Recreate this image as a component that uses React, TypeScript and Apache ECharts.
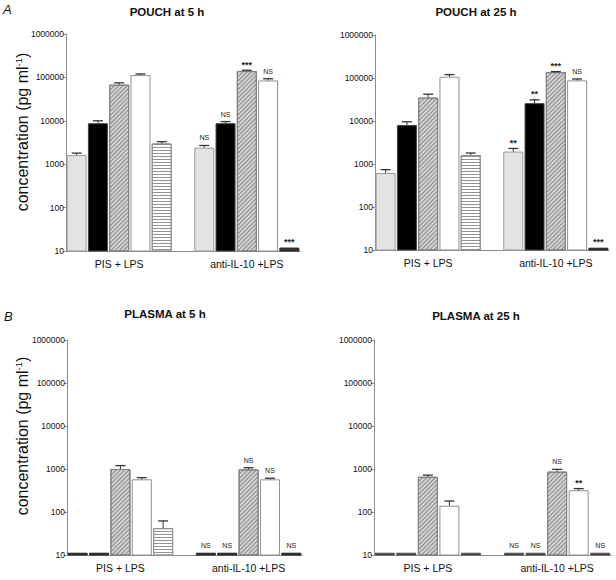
import React, { useEffect, useRef } from "react";
import * as echarts from "echarts";

// ---------- data ----------
const groups = ["PIS + LPS", "anti-IL-10 +LPS"];
const panelTitles = ["POUCH at 5 h", "POUCH at 25 h", "PLASMA at 5 h", "PLASMA at 25 h"];
const yTicks = [10, 100, 1000, 10000, 100000, 1000000];

// 10 bars per panel: 5 bar types for group 1 then 5 for group 2
const pouch5Values = [1620, 8800, 68000, 113000, 3000, 2400, 8800, 140000, 85000, 12];
const pouch5Errors = [1800, 10000, 75000, 120000, 3300, 2700, 9600, 146000, 93000, 12];
const pouch5Sig = ["", "", "", "", "", "NS", "NS", "***", "NS", "***"];

const pouch25Values = [617, 8100, 35000, 107000, 1620, 1950, 26000, 137000, 88000, 11.3];
const pouch25Errors = [740, 9600, 42000, 120000, 1800, 2300, 31000, 141000, 95000, 11.3];
const pouch25Sig = ["", "", "", "", "", "**", "**", "***", "NS", "***"];

const plasma5Values = [11.3, 11.3, 1000, 575, 42, 11.3, 11.3, 980, 575, 11.3];
const plasma5Errors = [11.3, 11.3, 1200, 630, 62, 11.3, 11.3, 1070, 610, 11.3];
const plasma5Sig = ["", "", "", "", "", "NS", "NS", "NS", "NS", "NS"];

const plasma25Values = [11.3, 11.3, 660, 140, 11.3, 11.3, 11.3, 870, 320, 11.3];
const plasma25Errors = [11.3, 11.3, 720, 180, 11.3, 11.3, 11.3, 980, 350, 11.3];
const plasma25Sig = ["", "", "", "", "", "NS", "NS", "NS", "**", "NS"];

const panelValues = [pouch5Values, pouch25Values, plasma5Values, plasma25Values];
const panelErrors = [pouch5Errors, pouch25Errors, plasma5Errors, plasma25Errors];
const panelSig = [pouch5Sig, pouch25Sig, plasma5Sig, plasma25Sig];

// ---------- layout / style ----------
const FONT = "'Liberation Sans', Arial, sans-serif";
const NARROW = "'Liberation Sans Narrow', 'Arial Narrow', 'Liberation Sans', Arial, sans-serif";

const grids = [
  { left: 66, top: 34, width: 234, height: 217 },
  { left: 375, top: 35, width: 234, height: 215 },
  { left: 67, top: 340, width: 235, height: 215 },
  { left: 374, top: 340, width: 237, height: 215 },
];
const titlePos = [
  { x: 167, y: 6 },
  { x: 476, y: 6 },
  { x: 165, y: 308 },
  { x: 476, y: 310 },
];

const diagDecal = {
  symbol: "rect",
  symbolSize: 1,
  dashArrayX: [1, 0],
  dashArrayY: [0.8, 1.4],
  rotation: -Math.PI / 4,
  color: "rgba(70,70,70,0.55)",
};
const horizDecal = {
  symbol: "rect",
  symbolSize: 1,
  dashArrayX: [1, 0],
  dashArrayY: [1, 2],
  rotation: 0,
  color: "rgba(120,120,120,0.8)",
};
const barStyles: any[] = [
  { color: "#e3e3e3", borderColor: "#9a9a9a", borderWidth: 1 },
  { color: "#000000", borderColor: "#444444", borderWidth: 1 },
  { color: "#d4d4d4", borderColor: "#808080", borderWidth: 1, decal: diagDecal },
  { color: "#ffffff", borderColor: "#909090", borderWidth: 1 },
  { color: "#ffffff", borderColor: "#909090", borderWidth: 1, decal: horizDecal },
];
// near-zero bars render as a dark line
const flatStyle = (p: number) => ({
  color: "#333",
  borderColor: p === 3 ? "#555" : "#222",
  borderWidth: 1,
  decal: "none",
});

const SLOTS = 11; // 5 bars, gap, 5 bars
const slotOf = (j: number) => (j < 5 ? j : j + 1);

export default function App() {
  const ref = useRef<HTMLDivElement>(null);

  useEffect(() => {
    if (!ref.current) return;
    const chart = echarts.init(ref.current, undefined, { renderer: "svg" });

    const slotNames = Array.from({ length: SLOTS }, (_, i) => "s" + i);

    const xAxis = grids.map((_, p) => ({
      type: "category",
      gridIndex: p,
      data: slotNames,
      axisLine: { lineStyle: { color: "#8c8c8c", width: 1 } },
      axisTick: { show: false },
      axisLabel: {
        interval: 0,
        margin: 7,
        fontSize: 10.5,
        fontFamily: FONT,
        color: "#111",
        formatter: (_v: string, idx: number) => (idx === 2 ? groups[0] : idx === 8 ? groups[1] : ""),
      },
    }));

    const yAxis = grids.map((_, p) => ({
      type: "log",
      gridIndex: p,
      logBase: 10,
      min: yTicks[0],
      max: yTicks[yTicks.length - 1],
      splitNumber: yTicks.length - 1,
      splitLine: { show: false },
      axisLine: { show: true, lineStyle: { color: "#8c8c8c", width: 1 } },
      axisTick: { show: true, length: 3, lineStyle: { color: "#8c8c8c" } },
      axisLabel: {
        margin: 2,
        fontSize: 8.5,
        fontFamily: NARROW,
        color: "#111",
        formatter: (v: number) => String(Math.round(v)),
      },
    }));

    const series: any[] = [];
    grids.forEach((_, p) => {
      const vals = panelValues[p];
      for (let k = 0; k < 5; k++) {
        const data = Array.from({ length: SLOTS }, (_, i) => {
          let v: number | null = null;
          if (i === k) v = vals[k];
          else if (i === k + 6) v = vals[5 + k];
          if (v === null) return "-";
          if (v < 13) return { value: v, itemStyle: flatStyle(p) };
          return v;
        });
        series.push({
          type: "bar",
          xAxisIndex: p,
          yAxisIndex: p,
          barWidth: 20,
          barGap: "-100%",
          data,
          itemStyle: barStyles[k],
          emphasis: { disabled: true },
          z: 2,
        });
      }
      const sig = panelSig[p];
      const errData = vals.map((v, j) => [slotOf(j), v, panelErrors[p][j]]);
      series.push({
        type: "custom",
        xAxisIndex: p,
        yAxisIndex: p,
        z: 5,
        data: errData,
        renderItem: (params: any, api: any) => {
          const j = params.dataIndex;
          const slot = api.value(0);
          const v = api.value(1);
          const e = api.value(2);
          const base = api.coord([slot, v]);
          const top = api.coord([slot, e]);
          const children: any[] = [];
          if (e > v) {
            children.push({
              type: "line",
              shape: { x1: top[0], y1: base[1], x2: top[0], y2: top[1] },
              style: { stroke: "#333", lineWidth: 1 },
            });
            children.push({
              type: "line",
              shape: { x1: top[0] - 5, y1: top[1], x2: top[0] + 5, y2: top[1] },
              style: { stroke: "#333", lineWidth: 1.3 },
            });
          }
          const s = sig[j];
          if (s) {
            const star = s.indexOf("*") >= 0;
            children.push({
              type: "text",
              style: {
                text: s,
                x: top[0],
                y: top[1] - (star ? 1 : 4),
                align: "center",
                verticalAlign: "bottom",
                fill: "#222",
                font: star ? `bold 9px ${FONT}` : `7px ${NARROW}`,
              },
            });
          }
          return { type: "group", children };
        },
      });
    });

    const titles: any[] = panelTitles.map((t, p) => ({
      text: t,
      left: titlePos[p].x,
      top: titlePos[p].y,
      textAlign: "center",
      padding: 0,
      textStyle: { fontSize: 11.5, fontWeight: "bold", fontFamily: FONT, color: "#111" },
    }));
    titles.push({
      text: "A",
      left: 3,
      top: 3,
      padding: 0,
      textStyle: { fontSize: 13, fontStyle: "italic", fontWeight: "normal", fontFamily: FONT, color: "#111" },
    });
    titles.push({
      text: "B",
      left: 4,
      top: 310,
      padding: 0,
      textStyle: { fontSize: 13, fontStyle: "italic", fontWeight: "normal", fontFamily: FONT, color: "#111" },
    });

    const yName = (cy: number) => ({
      type: "text",
      x: 22,
      y: cy,
      rotation: Math.PI / 2,
      style: {
        text: "{a|concentration (pg ml}{s|-1}{a|)}",
        align: "center",
        verticalAlign: "middle",
        rich: {
          a: { fontSize: 16, fontFamily: FONT, fill: "#111", lineHeight: 18 },
          s: { fontSize: 9.5, fontFamily: FONT, fill: "#111", verticalAlign: "top", lineHeight: 18 },
        },
      },
    });

    chart.setOption({
      animation: false,
      backgroundColor: "#ffffff",
      title: titles,
      grid: grids.map((g) => ({ ...g, containLabel: false })),
      xAxis,
      yAxis,
      series,
      graphic: [yName(132), yName(436)],
    });

    return () => chart.dispose();
  }, []);

  return (
    <div
      ref={ref}
      style={{ position: "fixed", left: 0, top: 0, width: 616, height: 580, background: "#fff" }}
    />
  );
}
